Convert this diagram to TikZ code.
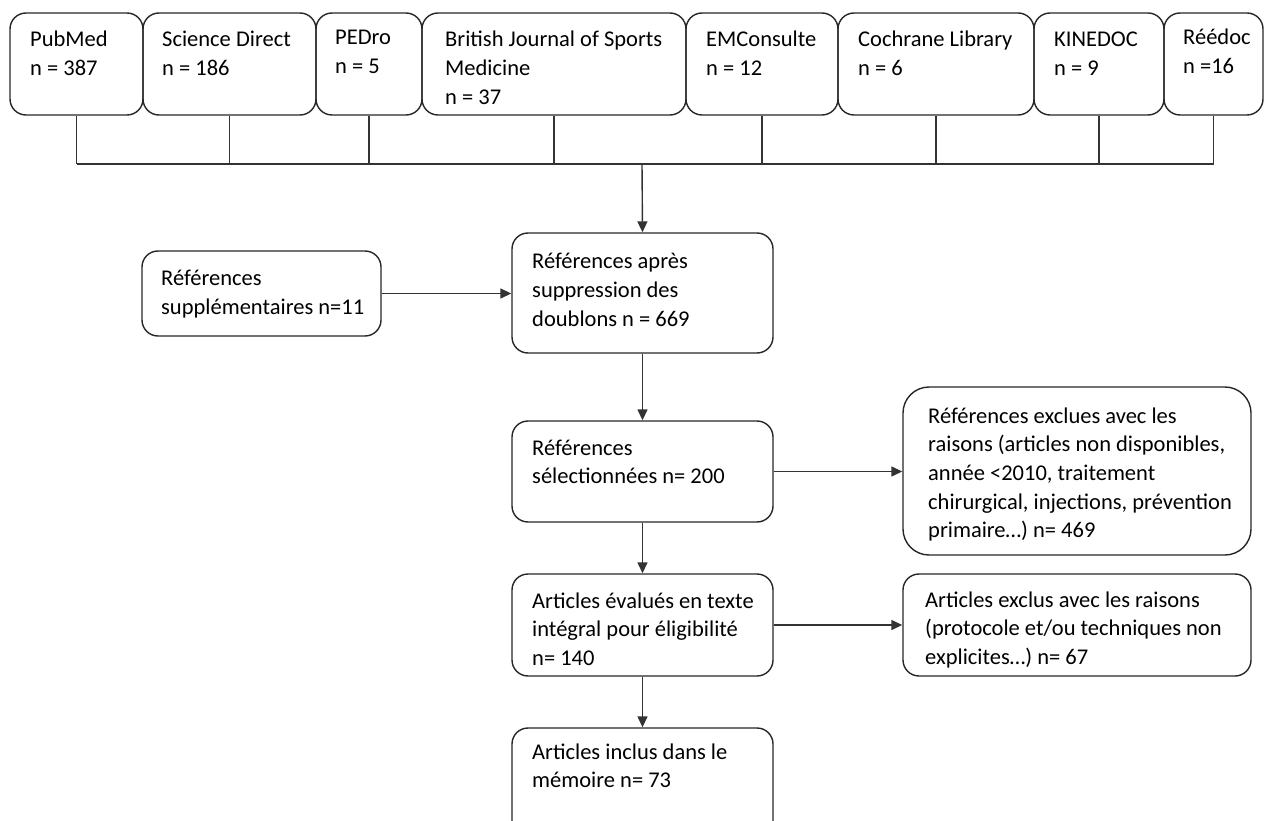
\documentclass[tikz,border=0pt]{standalone}
\usepackage{fontspec}
\setmainfont{Carlito}
\usetikzlibrary{arrows.meta}
\tikzset{
  box/.style={draw=black!85, line width=1.4pt, rounded corners=16pt, inner sep=0pt},
  txt/.style={anchor=base west, inner sep=0pt},
  conn/.style={draw=black!80, line width=1.4pt},
  arr/.style={conn, -{Triangle[length=11pt,width=10pt]}},
}
\newcommand{\mybox}[6][]{% name, x1,y1,x2,y2
  \node[box,#1, minimum width={#5-#3}, minimum height={#6-#4}] (#2) at ({(#3+#5)/2},{(#4+#6)/2}) {};}
\newcommand{\mytxt}[4]{% name, x, y, text
  \node[txt] (#1) at (#2,#3) {\parbox[t]{400pt}{\fontsize{22.5}{28.7}\selectfont\raggedright #4}};}
\begin{document}
\begin{tikzpicture}[x=1pt,y=-1pt]
\useasboundingbox (0,0) rectangle (1264,821);
% top row
\mybox{pub}{10}{13}{143}{115}
\mybox{sci}{143}{13}{316}{115}
\mybox{ped}{316}{13}{422}{115}
\mybox{bri}{422}{13}{686}{115}
\mybox{emc}{686}{13}{838}{115}
\mybox{coc}{838}{13}{1034}{115}
\mybox{kin}{1034}{13}{1164}{115}
\mybox{ree}{1164}{13}{1263}{115}
\mytxt{tpub}{30}{47}{PubMed\\n = 387}
\mytxt{tsci}{162}{47}{Science Direct\\n = 186}
\mytxt{tped}{335}{45}{PEDro\\n = 5}
\mytxt{tbri}{445}{47}{British Journal of Sports\\Medicine\\n = 37}
\mytxt{temc}{706}{47}{EMConsulte\\n = 12}
\mytxt{tcoc}{858}{47}{Cochrane Library\\n = 6}
\mytxt{tkin}{1054}{47}{KINEDOC\\n = 9}
\mytxt{tree}{1183}{45}{Réédoc\\n =16}
% bus
\coordinate (bus) at (642,164);
\foreach \n in {pub,sci,ped,bri,emc,coc,kin,ree}{
  \draw[conn] (\n.south) -- (\n.south |- bus);
}
\draw[conn] (pub.south |- bus) -- (ree.south |- bus);
% middle column
\mybox{sup}{142}{251}{381}{336}
\mytxt{tsup}{161}{286}{Références\\supplémentaires n=11}
\mybox{dbl}{512}{233}{773}{353}
\mytxt{tdbl}{532}{269}{Références après\\suppression des\\doublons n = 669}
\mybox{sel}{512}{421}{773}{522}
\mytxt{tsel}{532}{455}{Références\\sélectionnées n= 200}
\mybox[rounded corners=26pt]{exc}{903}{387}{1251}{555}
\mytxt{texc}{928}{423}{Références exclues avec les\\raisons (articles non disponibles,\\année <2010, traitement\\chirurgical, injections, prévention\\primaire…) n= 469}
\mybox{eva}{512}{574}{773}{676}
\mytxt{teva}{532}{608}{Articles évalués en texte\\intégral pour éligibilité\\n= 140}
\mybox{exa}{903}{574}{1251}{676}
\begin{scope}
\clip (904,575) rectangle (1250,667);
\mytxt{texa}{925}{607}{Articles exclus avec les raisons\\(protocole et/ou techniques non\\explicites…) n= 67}
\end{scope}
\begin{scope}
\clip (0,0) rectangle (1264,821);
\mybox{inc}{512}{728}{773}{840}
\end{scope}
\mytxt{tinc}{532}{759}{Articles inclus dans le\\mémoire n= 73}
% arrows
\draw[arr] (bus) -- (dbl.north);
\draw[arr] (sup.east) -- (sup.east -| dbl.west);
\draw[arr] (dbl.south) -- (sel.north);
\draw[arr] (sel.east) -- (sel.east -| exc.west);
\draw[arr] (sel.south) -- (eva.north);
\draw[arr] (eva.east) -- (eva.east -| exa.west);
\draw[arr] (eva.south) -- (inc.north);
\end{tikzpicture}
\end{document}
